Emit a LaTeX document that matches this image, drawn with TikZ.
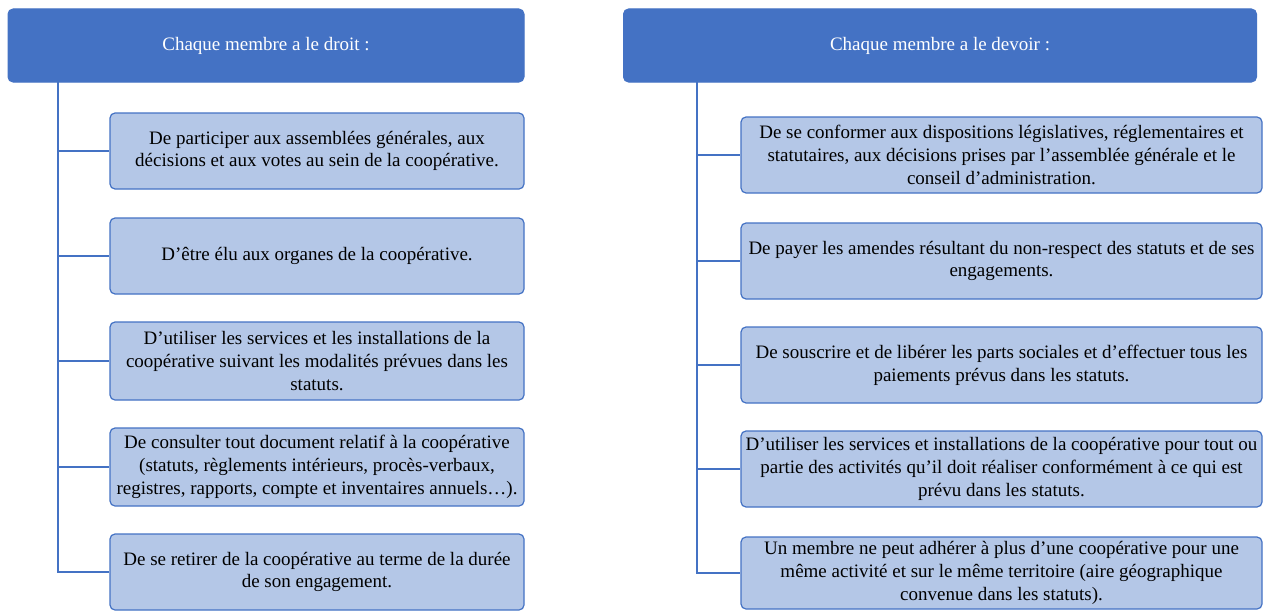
\documentclass[tikz,border=0pt]{standalone}
\usepackage{fontspec}
\setmainfont{Liberation Serif}
\definecolor{hdr}{HTML}{4472C4}
\definecolor{boxfill}{HTML}{B4C7E7}
\begin{document}
\begin{tikzpicture}[x=1pt,y=-1pt,
  header/.style={draw=hdr, fill=hdr, rounded corners=5pt, line width=1pt, text=white,
    font=\fontsize{19}{22.7}\selectfont, align=center, inner sep=0pt},
  itembox/.style={draw=hdr, fill=boxfill, rounded corners=5pt, line width=1.2pt, text=black,
    font=\fontsize{19}{22.7}\selectfont, align=center, inner sep=0pt},
  link/.style={draw=hdr, line width=2pt}]
\useasboundingbox (0,0) rectangle (1268,610);
\fill[white] (0,0) rectangle (1268,610);

% ---------- left column ----------
\node[header, minimum width=516pt, minimum height=73pt] (hL) at (266,45.5) {Chaque membre a le droit :};
\node[itembox, minimum width=414pt, minimum height=76pt] (bL1) at (317,151)
  {De participer aux assemblées générales, aux\\décisions et aux votes au sein de la coopérative.};
\node[itembox, minimum width=414pt, minimum height=76pt] (bL2) at (317,256)
  {D’être élu aux organes de la coopérative.};
\node[itembox, minimum width=414pt, minimum height=78pt] (bL3) at (317,361)
  {D’utiliser les services et les installations de la\\coopérative suivant les modalités prévues dans les\\statuts.};
\node[itembox, minimum width=414pt, minimum height=78pt] (bL4) at (317,467)
  {De consulter tout document relatif à la coopérative\\(statuts, règlements intérieurs, procès-verbaux,\\registres, rapports, compte et inventaires annuels…).};
\node[itembox, minimum width=414pt, minimum height=76pt] (bL5) at (317,572)
  {De se retirer de la coopérative au terme de la durée\\de son engagement.};

\coordinate (tL) at (58,82);
\draw[link] (tL) |- (bL5.west);
\foreach \b in {bL1,bL2,bL3,bL4}{
  \draw[link] (tL |- \b.west) -- (\b.west);
}

% ---------- right column ----------
\node[header, minimum width=633pt, minimum height=73pt] (hR) at (940,45.5) {Chaque membre a le devoir :};
\node[itembox, minimum width=521pt, minimum height=76pt] (bR1) at (1001.5,155)
  {De se conformer aux dispositions législatives, réglementaires et\\statutaires, aux décisions prises par l’assemblée générale et le\\conseil d’administration.};
\node[itembox, minimum width=521pt, minimum height=76pt] (bR2) at (1001.5,261)
  {De payer les amendes résultant du non-respect des statuts et de ses\\engagements.};
\node[itembox, minimum width=521pt, minimum height=76pt] (bR3) at (1001.5,365)
  {De souscrire et de libérer les parts sociales et d’effectuer tous les\\paiements prévus dans les statuts.};
\node[itembox, minimum width=521pt, minimum height=76pt] (bR4) at (1001.5,469)
  {D’utiliser les services et installations de la coopérative pour tout ou\\partie des activités qu’il doit réaliser conformément à ce qui est\\prévu dans les statuts.};
\node[itembox, minimum width=521pt, minimum height=72pt] (bR5) at (1001.5,573)
  {Un membre ne peut adhérer à plus d’une coopérative pour une\\même activité et sur le même territoire (aire géographique\\convenue dans les statuts).};

\coordinate (tR) at (697,82);
\draw[link] (tR) |- (bR5.west);
\foreach \b in {bR1,bR2,bR3,bR4}{
  \draw[link] (tR |- \b.west) -- (\b.west);
}
\end{tikzpicture}
\end{document}
